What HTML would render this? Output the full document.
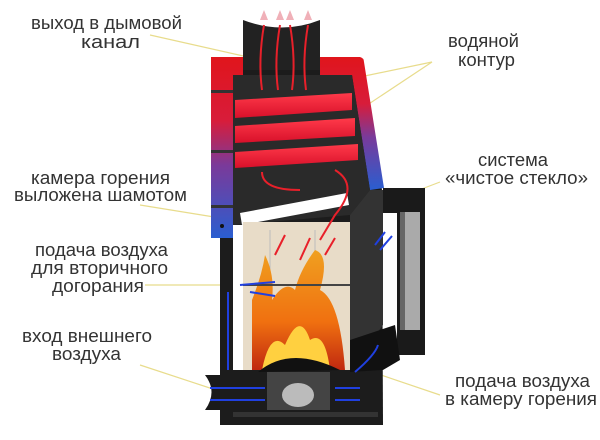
<!DOCTYPE html>
<html><head><meta charset="utf-8"><style>
html,body{margin:0;padding:0;background:#fff;width:600px;height:440px;overflow:hidden}
svg text{font-family:"Liberation Sans","DejaVu Sans",sans-serif;font-size:18px;fill:#333}
</style></head><body>
<svg width="600" height="440" viewBox="0 0 600 440">
<defs>
<linearGradient id="wl" x1="0" y1="0" x2="0" y2="1">
<stop offset="0" stop-color="#e0151c"/><stop offset="0.35" stop-color="#d81c3a"/><stop offset="0.6" stop-color="#7a3a9a"/><stop offset="1" stop-color="#2a5ed0"/></linearGradient>
<linearGradient id="bar" x1="0" y1="0" x2="0" y2="1">
<stop offset="0" stop-color="#ff3a4a"/><stop offset="1" stop-color="#d8102a"/></linearGradient>
<linearGradient id="fire" x1="0" y1="0" x2="0" y2="1">
<stop offset="0" stop-color="#f0a020"/><stop offset="0.6" stop-color="#f07010"/><stop offset="1" stop-color="#c02810"/></linearGradient>
</defs>
<g stroke="#e8dc8c" stroke-width="1.2" fill="none">
<line x1="150" y1="35" x2="270" y2="62"/>
<line x1="432" y1="62" x2="355" y2="78"/>
<line x1="432" y1="62" x2="310" y2="143"/>
<line x1="440" y1="182" x2="398" y2="198"/>
<line x1="140" y1="205" x2="245" y2="222"/>
<line x1="145" y1="285" x2="240" y2="285"/>
<line x1="140" y1="365" x2="225" y2="393"/>
<line x1="440" y1="395" x2="372" y2="372"/>
</g>
<path d="M205 375 Q218 392 205 410 L235 410 L235 375 Z" fill="#1a1a1a"/>
<path d="M220 60 L362 60 L382 190 L383 425 L220 425 Z" fill="#1c1c1c"/>
<path d="M243 20 Q282 35 320 20 L320 70 L243 70 Z" fill="#222"/>
<path d="M211 57 L243 57 L243 75 L233 75 L233 238 L211 238 Z" fill="url(#wl)"/>
<path d="M320 57 L360 57 Q364 58 364 62 L384 188 L370 190 L352 75 L320 75 Z" fill="url(#wl)"/>
<g fill="#333"><rect x="211" y="90" width="22" height="3"/><rect x="211" y="150" width="22" height="3"/><rect x="211" y="205" width="22" height="3"/></g>
<circle cx="222" cy="226" r="2" fill="#111"/>
<path d="M233 75 L352 75 L370 190 L350 215 L233 225 Z" fill="#2a2a2a"/>
<path d="M235 100 L352 93 L352 110 L235 118 Z" fill="url(#bar)"/>
<path d="M235 126 L355 118 L355 136 L235 143 Z" fill="url(#bar)"/>
<path d="M235 152 L358 144 L358 160 L235 168 Z" fill="url(#bar)"/>
<path d="M240 213 L347 193 L349 205 L242 225 Z" fill="#fff"/>
<rect x="243" y="222" width="107" height="148" fill="#e8dcc8"/>
<rect x="233" y="225" width="10" height="145" fill="#fff"/>
<g stroke="#bbb" stroke-width="1"><line x1="270" y1="230" x2="270" y2="340"/><line x1="315" y1="230" x2="315" y2="340"/></g>
<path d="M252 370 L252 300 Q262 275 265 255 Q275 275 272 300 Q285 280 295 290 Q300 270 315 250 Q330 255 320 290 Q340 300 345 370 Z" fill="url(#fire)"/>
<path d="M262 370 Q270 330 285 345 Q300 310 310 340 Q325 330 330 370 Z" fill="#ffd040"/>
<path d="M258 372 Q290 345 340 370 Z" fill="#111"/>
<line x1="243" y1="285" x2="350" y2="285" stroke="#444" stroke-width="2"/>
<path d="M350 215 L370 190 L383 190 L383 325 L350 370 Z" fill="#333"/>
<rect x="383" y="188" width="42" height="25" fill="#1a1a1a"/>
<rect x="397" y="188" width="28" height="167" fill="#1a1a1a"/>
<rect x="405" y="212" width="15" height="118" fill="#aaa"/>
<rect x="400" y="212" width="5" height="118" fill="#666"/>
<path d="M350 340 L395 325 L400 360 L383 370 L350 372 Z" fill="#111"/>
<rect x="267" y="372" width="63" height="38" fill="#444"/>
<ellipse cx="298" cy="395" rx="16" ry="12" fill="#bbb"/>
<rect x="233" y="412" width="145" height="5" fill="#333"/>
<g stroke="#e8202a" stroke-width="2" fill="none">
<path d="M262 90 Q258 60 264 25"/><path d="M278 90 Q274 60 280 25"/><path d="M292 90 Q296 60 290 25"/><path d="M306 90 Q302 60 308 25"/>
<path d="M262 172 Q262 190 300 190"/><path d="M335 170 Q360 185 335 215 L320 240"/>
<path d="M275 255 L285 235"/><path d="M300 260 L310 238"/><path d="M325 255 L335 238"/>
</g>
<g fill="#f0b0b8"><polygon points="260,20 264,10 268,20"/><polygon points="276,20 280,10 284,20"/><polygon points="286,20 290,10 294,20"/><polygon points="304,20 308,10 312,20"/></g>
<g stroke="#2040e0" stroke-width="2" fill="none">
<path d="M210 388 L265 388"/><path d="M210 400 L265 400"/><path d="M335 388 L360 388"/><path d="M335 400 L360 400"/>
<path d="M228 370 L228 292"/><path d="M240 285 L275 282"/><path d="M250 292 L275 296"/>
<path d="M355 372 Q375 355 378 345"/><path d="M375 245 L385 232"/><path d="M380 250 L392 236"/>
</g>
<g>
<text x="31" y="29" textLength="151" lengthAdjust="spacingAndGlyphs">выход в дымовой</text>
<text x="81" y="48" textLength="59" lengthAdjust="spacingAndGlyphs">канал</text>
<text x="448" y="47" textLength="71" lengthAdjust="spacingAndGlyphs">водяной</text>
<text x="458" y="66" textLength="57" lengthAdjust="spacingAndGlyphs">контур</text>
<text x="478" y="166" textLength="70" lengthAdjust="spacingAndGlyphs">система</text>
<text x="445" y="184" textLength="143" lengthAdjust="spacingAndGlyphs">«чистое стекло»</text>
<text x="31" y="184" textLength="139" lengthAdjust="spacingAndGlyphs">камера горения</text>
<text x="14" y="201" textLength="173" lengthAdjust="spacingAndGlyphs">выложена шамотом</text>
<text x="35" y="256" textLength="133" lengthAdjust="spacingAndGlyphs">подача воздуха</text>
<text x="31" y="274" textLength="137" lengthAdjust="spacingAndGlyphs">для вторичного</text>
<text x="52" y="292" textLength="92" lengthAdjust="spacingAndGlyphs">догорания</text>
<text x="22" y="342" textLength="130" lengthAdjust="spacingAndGlyphs">вход внешнего</text>
<text x="52" y="360" textLength="69" lengthAdjust="spacingAndGlyphs">воздуха</text>
<text x="455" y="387" textLength="135" lengthAdjust="spacingAndGlyphs">подача воздуха</text>
<text x="445" y="405" textLength="152" lengthAdjust="spacingAndGlyphs">в камеру горения</text>
</g>
</svg>
</body></html>
